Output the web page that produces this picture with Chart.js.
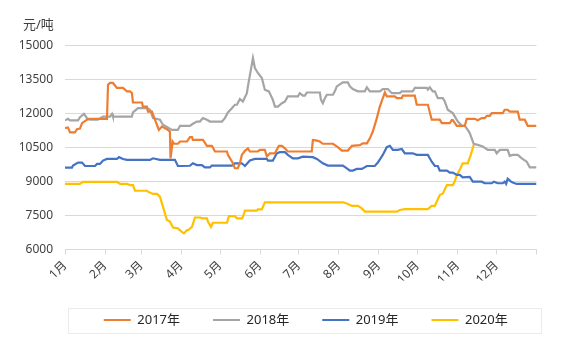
<!DOCTYPE html>
<html lang="zh">
  <head>
    <meta charset="UTF-8" />
    <title>价格走势</title>
    <script src="https://cdn.jsdelivr.net/npm/chart.js"></script>
    <style>
      body {
        margin: 0;
        background: #fff;
      }
      #wrap {
        width: 567px;
        height: 340px;
      }
    </style>
  </head>
  <body>
    <div id="wrap"><canvas id="plot"></canvas></div>
    <script>
      // month boundaries in day-of-year, with the label for each month start
      const monthStarts = [0, 31, 59, 90, 120, 151, 181, 212, 243, 273, 304, 334, 365];
      const monthLabels = ["1月", "2月", "3月", "4月", "5月", "6月", "7月", "8月", "9月", "10月", "11月", "12月"];
      const seriesNames = ["2017年", "2018年", "2019年", "2020年"];
      const seriesColors = ["#ED7D31", "#A5A5A5", "#4472C4", "#FFC000"];

      // price points (day of year -> 元/吨), one pair of arrays per year
      const days2017 = [0, 2.3, 3.9, 7.7, 9.3, 11.6, 13.2, 17, 19.3, 32.5, 33.3, 34.8, 37.1, 40.2, 44.9, 48, 50.3, 51.8, 52.6, 59.6, 60.3, 63.4, 64.2, 67.3, 69.6, 72.7, 75, 78.9, 81.2, 81.7, 83.3, 84.5, 87.4, 89, 94.4, 96.7, 98.3, 99, 106.8, 109.9, 113.7, 116.1, 125.4, 126.1, 130, 131.5, 133.8, 135.4, 136.9, 139.3, 141.6, 143.1, 149.3, 150.9, 154.7, 156.3, 158.6, 162.5, 165.6, 167.9, 170.2, 172.5, 191, 191.9, 195, 197.3, 199.6, 207.4, 211.2, 214.3, 219, 222.1, 228.2, 230.6, 233.7, 236, 238.3, 241.4, 243.7, 247.6, 249.1, 255.3, 256.9, 260.7, 261.5, 270.8, 272.3, 280.9, 283.9, 290.1, 291.7, 297.9, 299.4, 300.2, 303.3, 309.5, 311, 317.2, 319.5, 322.6, 324.9, 326.5, 328.8, 330.4, 338.9, 340.4, 342.7, 344.3, 350.5, 352, 355.9, 358.2, 365];
      const price2017 = [11350, 11380, 11160, 11160, 11300, 11330, 11570, 11720, 11760, 11760, 13260, 13340, 13340, 13120, 13120, 12970, 12970, 12900, 12480, 12480, 12300, 12300, 12080, 12080, 11720, 11270, 11420, 11300, 11200, 10020, 10760, 10660, 10660, 10760, 10760, 10950, 10950, 10830, 10830, 10570, 10570, 10320, 10320, 10170, 9800, 9580, 9580, 9800, 10170, 10350, 10460, 10320, 10320, 10390, 10390, 10100, 10240, 10240, 10570, 10570, 10460, 10320, 10320, 10830, 10800, 10760, 10660, 10660, 10510, 10360, 10360, 10570, 10600, 10680, 10680, 10900, 11200, 11790, 12300, 12920, 12750, 12750, 12670, 12670, 12780, 12780, 12380, 12380, 11720, 11720, 11570, 11570, 11700, 11700, 11450, 11450, 11760, 11760, 11700, 11790, 11790, 11890, 11890, 12010, 12010, 12160, 12160, 12080, 12080, 11720, 11720, 11450, 11450];

      const days2018 = [0, 2.3, 3.9, 10.1, 11.6, 14.7, 17, 19.3, 25.5, 27.1, 29.4, 34.8, 36.4, 37.1, 51.8, 52.6, 56.5, 63.4, 65.8, 68.1, 73.5, 75.8, 78.9, 82.8, 87.4, 89, 96.7, 99, 102.1, 104.4, 106.8, 109.9, 112.2, 121.5, 123.8, 126.1, 129.2, 131.5, 133.1, 135.4, 137.7, 140.8, 141.6, 143.9, 145.5, 147, 149.3, 152.4, 154.7, 157.8, 160.9, 162.5, 164.8, 167.9, 170.2, 172.5, 180.3, 181.8, 184.1, 185.7, 187.2, 197.3, 198.1, 199.6, 201.2, 202.7, 207.4, 208.9, 210.4, 215.1, 219, 220.5, 222.8, 226.7, 232.1, 233.7, 236, 243.7, 246, 249.9, 253, 259.2, 260.7, 269.2, 270.8, 280.1, 280.9, 282.4, 284.7, 286.3, 288.6, 292.5, 294, 296.3, 300.2, 304.1, 307.2, 309.5, 311.8, 313.3, 316.4, 319.5, 323.4, 327.3, 332.7, 334.2, 336.6, 342.7, 344.3, 346.6, 350.5, 353.6, 357.4, 359.8, 365];
      const price2018 = [11690, 11760, 11690, 11690, 11830, 11980, 11790, 11720, 11720, 11780, 11860, 11860, 11980, 11860, 11860, 12040, 12230, 12230, 12160, 11790, 11720, 11500, 11400, 11270, 11270, 11450, 11450, 11540, 11640, 11640, 11790, 11720, 11640, 11640, 11790, 12040, 12230, 12380, 12380, 12630, 12520, 12890, 13190, 13930, 14440, 14000, 13780, 13560, 13040, 12970, 12600, 12300, 12300, 12450, 12520, 12750, 12750, 12890, 12780, 12780, 12920, 12920, 12600, 12450, 12670, 12820, 12820, 12970, 13190, 13370, 13370, 13190, 13070, 12970, 12970, 13150, 12970, 12970, 13070, 13070, 12890, 12890, 12970, 12970, 13120, 13120, 13050, 13150, 12970, 12970, 12670, 12670, 12520, 12160, 12010, 11640, 11450, 11450, 11270, 11130, 10660, 10610, 10540, 10390, 10390, 10240, 10390, 10390, 10130, 10170, 10170, 10020, 9870, 9620, 9620];

      const days2019 = [0, 5.4, 6.2, 10.1, 13.2, 15.5, 23.2, 24.8, 27.1, 29.4, 32.5, 40.2, 41.8, 44.9, 48, 65.8, 68.1, 73.5, 85.1, 87.4, 90.5, 96.7, 99, 102.1, 106, 108.3, 112.2, 113.7, 129.2, 131.5, 136.9, 139.3, 143.1, 147, 156.3, 157.1, 160.9, 164, 166.3, 170.2, 172.5, 176.4, 180.3, 184.1, 191.9, 195, 199.6, 203.5, 215.1, 218.2, 220.5, 222.8, 225.9, 229.8, 233.7, 239.8, 242.2, 246, 249.1, 251.5, 253.8, 257.6, 260.7, 263.1, 269.2, 272.3, 280.9, 283.9, 286.3, 288.6, 290.1, 295.6, 297.9, 300.2, 303.3, 305.6, 307.9, 313.3, 315.7, 322.6, 324.9, 330.4, 332, 335, 338.9, 340.4, 341.5, 342.7, 345, 346.6, 349.7, 365];
      const price2019 = [9610, 9610, 9700, 9830, 9830, 9680, 9680, 9770, 9770, 9920, 9990, 9990, 10070, 9990, 9950, 9950, 10020, 9950, 9950, 9680, 9680, 9690, 9800, 9720, 9720, 9620, 9620, 9700, 9700, 9800, 9800, 9680, 9920, 9990, 9990, 9920, 9920, 10240, 10290, 10290, 10170, 10020, 10020, 10090, 10070, 9990, 9800, 9700, 9700, 9580, 9480, 9480, 9550, 9550, 9680, 9680, 9830, 10170, 10510, 10570, 10390, 10390, 10430, 10240, 10240, 10170, 10170, 9870, 9680, 9680, 9480, 9480, 9390, 9390, 9290, 9290, 9180, 9200, 8990, 8990, 8920, 8920, 8990, 8920, 8920, 8990, 8890, 9120, 9000, 8950, 8890, 8890];

      const days2020 = [0, 11.6, 13.9, 40.2, 42.6, 48, 50.3, 52.6, 54.2, 63.4, 64.2, 68.1, 71.2, 73.5, 75.8, 78.9, 81.2, 83.6, 87.4, 90.5, 92.1, 94.4, 95.2, 98.3, 100.6, 104.4, 106.8, 109.9, 110.6, 113, 114.5, 125.4, 126.9, 131.5, 133.1, 136.9, 137.7, 139.3, 148.5, 149.3, 152.4, 154.7, 215.1, 218.2, 222.1, 226.7, 229.8, 232.1, 256.9, 259.2, 263.1, 280.9, 283.9, 286.3, 287.8, 290.1, 292.5, 295.6, 300.2, 301.7, 303.3, 305.6, 307.9, 311.8, 314.1, 316.4];
      const price2020 = [8890, 8890, 8980, 8980, 8890, 8890, 8840, 8840, 8590, 8590, 8550, 8450, 8450, 8330, 7890, 7300, 7230, 6970, 6930, 6780, 6710, 6850, 6850, 7000, 7410, 7410, 7370, 7370, 7230, 7000, 7180, 7180, 7470, 7470, 7370, 7370, 7440, 7710, 7710, 7770, 7770, 8080, 8080, 8030, 7920, 7920, 7810, 7670, 7670, 7740, 7780, 7780, 7920, 7920, 8110, 8400, 8470, 8840, 8840, 8990, 9290, 9510, 9800, 9800, 10170, 10610];

      const yTicks = [6000, 7500, 9000, 10500, 12000, 13500, 15000];

      const allDays = [days2017, days2018, days2019, days2020];
      const allPrices = [price2017, price2018, price2019, price2020];

      const FONT = "'Microsoft YaHei', 'Noto Sans', 'Noto Sans CJK SC', sans-serif";
      const TEXT = "#404040";
      const GRID = "#d9d9d9";

      Chart.defaults.font.family = FONT;
      Chart.defaults.color = TEXT;

      const datasets = seriesNames.map((name, i) => ({
        label: name,
        data: allDays[i].map((d, k) => ({ x: d, y: allPrices[i][k] })),
        borderColor: seriesColors[i],
        backgroundColor: seriesColors[i],
        borderWidth: 2.2,
        pointRadius: 0,
        tension: 0,
      }));

      // nudge the unit label and the legend row into place
      const nudge = {
        id: "nudge",
        afterLayout(chart) {
          if (chart.titleBlock) chart.titleBlock.left += 6;
          if (chart.legend) {
            chart.legend.left += 5;
            chart.legend.right += 5;
          }
        },
      };

      // thin frame around the legend row
      const legendFrame = {
        id: "legendFrame",
        afterDraw(chart) {
          const lg = chart.legend;
          const hb = lg.legendHitBoxes && lg.legendHitBoxes[0];
          if (!hb) return;
          const { ctx, chartArea } = chart;
          ctx.save();
          ctx.strokeStyle = "#ebebeb";
          ctx.lineWidth = 1;
          ctx.strokeRect(
            Math.round(chartArea.left + 3) + 0.5,
            Math.round(hb.top - 6) + 0.5,
            Math.round(chartArea.right - chartArea.left + 1),
            Math.round(hb.height + 12)
          );
          ctx.restore();
        },
      };

      new Chart(document.getElementById("plot"), {
        type: "line",
        data: { datasets },
        options: {
          responsive: true,
          maintainAspectRatio: false,
          animation: false,
          layout: {
            padding: { top: 0, left: 17, right: 30.5, bottom: 3.5 },
          },
          plugins: {
            title: {
              display: true,
              text: "元/吨",
              align: "start",
              color: TEXT,
              font: { size: 13, weight: "normal" },
              padding: { top: 17, bottom: 12.7 },
            },
            legend: {
              position: "bottom",
              fullSize: false,
              labels: {
                usePointStyle: true,
                pointStyle: "line",
                pointStyleWidth: 27,
                boxWidth: 27,
                padding: 33,
                color: "#262626",
                font: { size: 13 },
              },
            },
            tooltip: { enabled: false },
          },
          scales: {
            x: {
              type: "linear",
              min: 0,
              max: 365,
              afterBuildTicks: (scale) => {
                scale.ticks = monthStarts.map((v) => ({ value: v }));
              },
              afterFit: (scale) => {
                scale.height = 31;
              },
              ticks: {
                autoSkip: false,
                minRotation: 45,
                maxRotation: 45,
                padding: 4,
                font: { size: 12 },
                callback: (value, index) => monthLabels[index] || "",
              },
              grid: {
                drawOnChartArea: false,
                drawTicks: true,
                tickLength: 5,
                color: GRID,
              },
              border: { display: true, color: GRID },
            },
            y: {
              min: 6000,
              max: 15000,
              afterBuildTicks: (scale) => {
                scale.ticks = yTicks.map((v) => ({ value: v }));
              },
              afterFit: (scale) => {
                scale.width = 48;
              },
              ticks: {
                padding: 12,
                font: { size: 12 },
                callback: (value) => String(value),
              },
              grid: {
                color: GRID,
                drawTicks: false,
              },
              border: { display: false },
            },
          },
        },
        plugins: [nudge, legendFrame],
      });
    </script>
  </body>
</html>
